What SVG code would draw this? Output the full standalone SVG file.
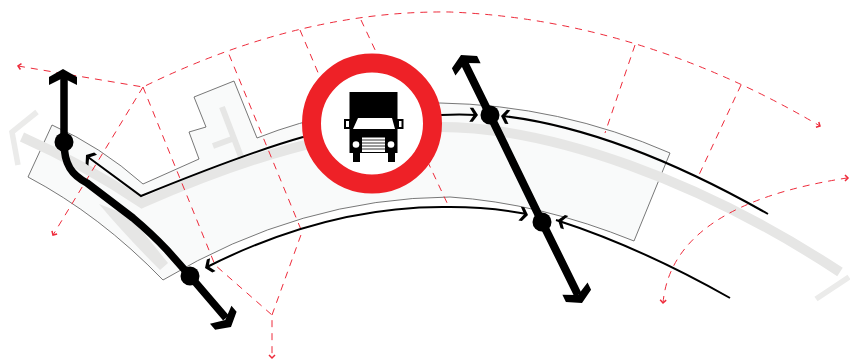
<svg xmlns="http://www.w3.org/2000/svg" width="850" height="363" viewBox="0 0 850 363">
<style>
.road{fill:none;stroke:#e6e6e5;stroke-width:10}
.thin{fill:none;stroke:#ebebea;stroke-width:5.500}
.area{fill:#f9fafa;stroke:#555;stroke-width:.8}
.dash{fill:none;stroke:#ee2a3a;stroke-width:1;stroke-dasharray:7 6}
.line{fill:none;stroke:#000;stroke-width:2}
.thick{fill:none;stroke:#000;stroke-width:8}
</style>
<defs>
<path id="big" d="M0 0L14 8V16L0 9L-14 16V8Z" fill="#000"/>
<path id="small" d="M0 0L7 5V8.500L0 4L-7 8.500V5Z" fill="#000"/>
<path id="tip" d="M-3 3L0 0L3 3" fill="none" stroke="#ee2a3a" stroke-width="1.500"/>
</defs>
<g id="area">
<path class="area" d="M52 125Q100 146 143 184L199 159L189 132L206 127L194 97L234 81L257 138Q340 105 440 103Q560 105 670 153L634 241Q540 203 450 197Q300 198 163 280Q100 215 28 177Z"/>
</g>
<g id="roads">
<path class="road" d="M22 137Q85 165 142 203C240 160 340 127 440 127C550 127 700 180 840 272"/>
<path class="thin" d="M37 112L12 132L18 165"/>
<path d="M99 204L130 216L168 263L160 270Q125 235 99 204Z" fill="#e6e6e5"/>
<path class="road" style="stroke-width:6" d="M222 107L243 162M213 146L232 139"/>
<path class="thin" d="M849 277L816 299"/>
</g>
<g id="connectors">
<path class="dash" d="M18 66L143 87Q300 10 450 12Q640 20 820 126"/>
<path class="dash" d="M143 87L53 235"/>
<path class="dash" d="M143 87L215 265L272 315L272 358"/>
<path class="dash" d="M272 315L302 232L228 52"/>
<path class="dash" d="M300 30L322 82"/>
<path class="dash" d="M361 20L449 207"/>
<path class="dash" d="M635 45L605 133"/>
<path class="dash" d="M741 85L698 177"/>
<path class="dash" d="M663 303Q672 205 847 178"/>
<use href="#tip" transform="translate(18 66) rotate(-80)"/>
<use href="#tip" transform="translate(53 235) rotate(211)"/>
<use href="#tip" transform="translate(272 358) rotate(180)"/>
<use href="#tip" transform="translate(820 126) rotate(118)"/>
<use href="#tip" transform="translate(663 303) rotate(183)"/>
<use href="#tip" transform="translate(848 178) rotate(90)"/>
<path class="line" d="M88 157L141 196C190 176 250 152 303 137Q370 115 441 115Q460 114 476 115"/>
<path class="line" d="M503 116Q620 130 768 214"/>
<path class="line" d="M207 267Q330 205 450 207Q490 207 527 214"/>
<path class="line" d="M556 220Q640 247 730 298"/>
<use href="#small" transform="translate(86 155) rotate(-52)"/>
<use href="#small" transform="translate(478 115) rotate(92)"/>
<use href="#small" transform="translate(501 116) rotate(-82)"/>
<use href="#small" transform="translate(205 268) rotate(-113)"/>
<use href="#small" transform="translate(528 215) rotate(100)"/>
<use href="#small" transform="translate(558 220) rotate(-72)"/>
<path class="thick" style="stroke-width:7.500" d="M64 75V142C64 165 72 175 87 183L133 218Q152 234 167 250L190 276L226 318"/>
<path class="thick" d="M463 60L490 115L542 222L578 295"/>
<use href="#big" transform="translate(63 69)"/>
<use href="#big" transform="translate(461 55) rotate(-26)"/>
<use href="#big" transform="translate(582 303) rotate(154)"/>
<use href="#big" transform="translate(231 327) rotate(140)"/>
<circle cx="64" cy="142" r="9.500"/>
<circle cx="190" cy="276" r="9.500"/>
<circle cx="490" cy="115" r="9.500"/>
<circle cx="542" cy="222" r="9.500"/>
</g>
<g id="sign">
<circle cx="372" cy="123.500" r="60.500" fill="#fff" stroke="#ee2127" stroke-width="19"/>
<path d="M349.500 92H397.500V153H395V162H388V153H360V162H353V153H349.500Z" fill="#000"/>
<path d="M344 119H351V129H344ZM397 119H403.500V129H397Z" fill="#000"/>
<path d="M346 121H349V127H346ZM399 121H401.500V127H399Z" fill="#fff"/>
<path d="M358 118H392L395 129H353Z" fill="#fff"/>
<circle cx="356" cy="144.500" r="3.300" fill="#fff"/>
<circle cx="391" cy="144.500" r="3.300" fill="#fff"/>
<path d="M362 137.500H385V152H362Z" fill="#fff"/>
<path d="M362 140H385M362 143H385M362 146H385M362 149H385" stroke="#000" stroke-width=".8" fill="none"/>
</g>
</svg>
